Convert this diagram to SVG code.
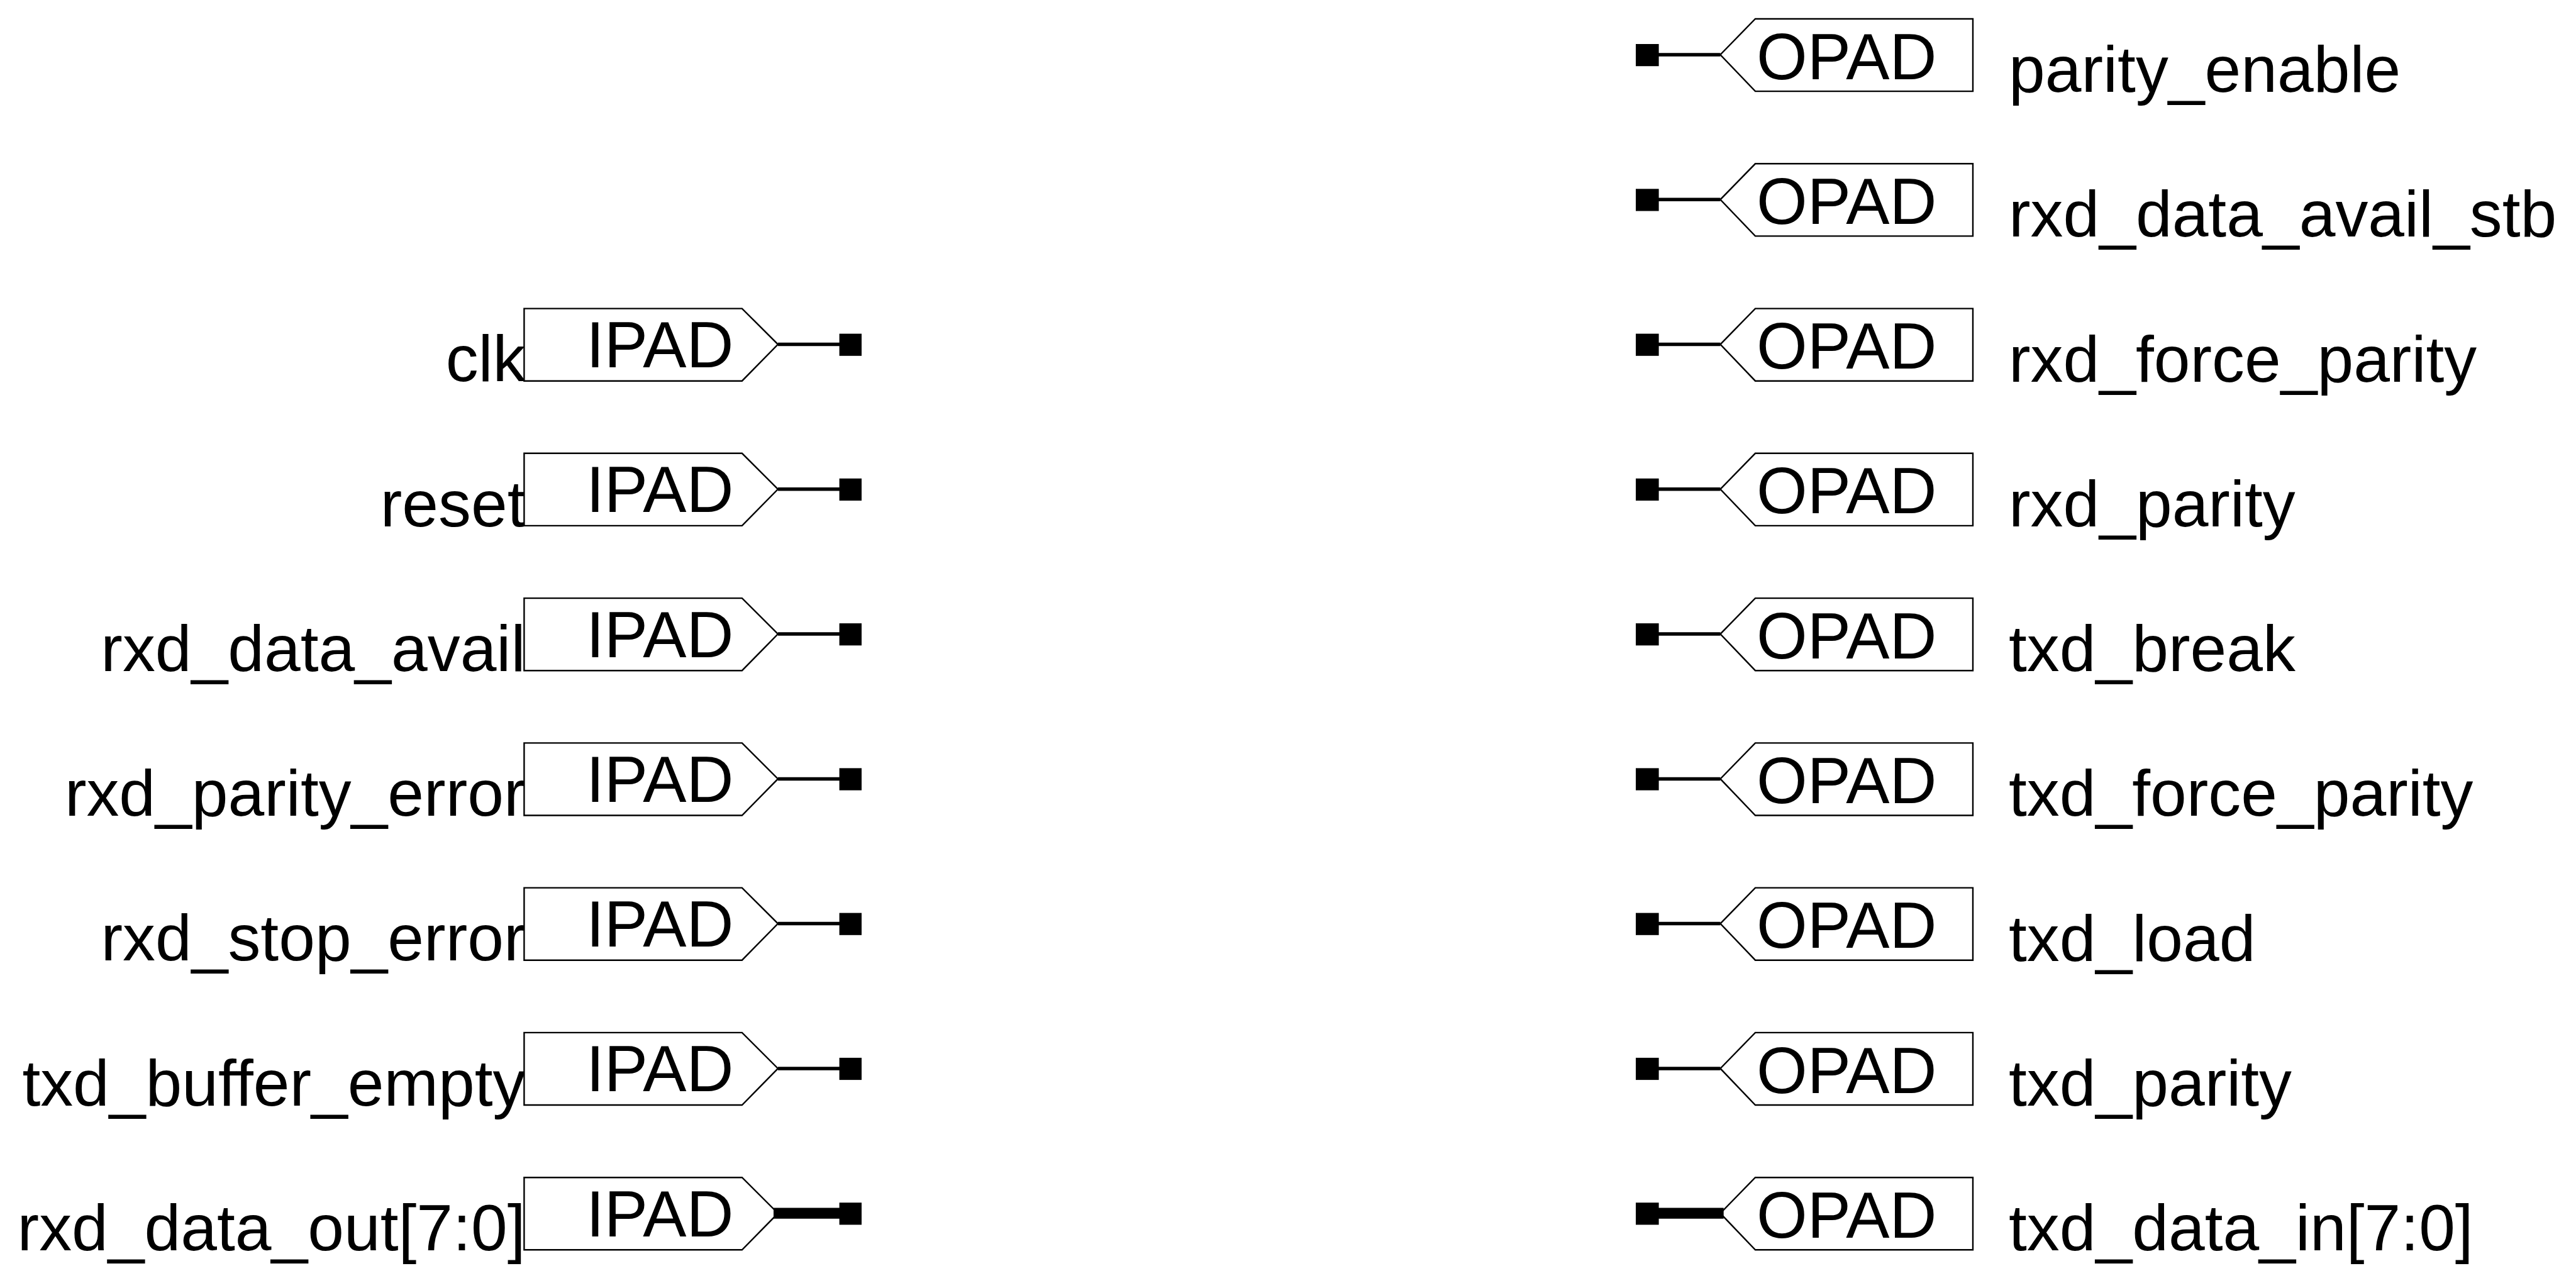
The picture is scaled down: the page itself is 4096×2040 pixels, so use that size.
<svg xmlns="http://www.w3.org/2000/svg" width="4096" height="2040" viewBox="0 0 4096 2040">
<style>
text{font-family:"Liberation Sans",Arial,sans-serif;font-size:103.8px;fill:#000}
.l{text-anchor:end}
.b{fill:#fff;stroke:#000;stroke-width:2.4}
.w{stroke:#000;stroke-width:5.5;fill:none}
.bus{stroke:#000;stroke-width:17.3;fill:none}
.t{fill:#000}
</style>
<defs>
<polygon id="ipad" class="b" points="833.4,0 1179.9,0 1237,57 1179.9,115.1 833.4,115.1"/>
<polygon id="opad" class="b" points="3137,0 2791,0 2735.4,57 2791,115.1 3137,115.1"/>
<rect id="ti" class="t" x="1334.6" y="40" width="35.4" height="35.2"/>
<rect id="to" class="t" x="2601" y="40" width="36.6" height="35.2"/>
</defs>
<g id="in-clk" transform="translate(0,490.6)"><text class="l" x="835.5" y="115.8">clk</text><use href="#ipad"/><text x="932" y="93.4">IPAD</text></g>
<g id="in-reset" transform="translate(0,720.8)"><text class="l" x="835.5" y="115.8">reset</text><use href="#ipad"/><text x="932" y="93.4">IPAD</text></g>
<g id="in-rxd_data_avail" transform="translate(0,951.1)"><text class="l" x="835.5" y="115.8">rxd_data_avail</text><use href="#ipad"/><text x="932" y="93.4">IPAD</text></g>
<g id="in-rxd_parity_error" transform="translate(0,1181.4)"><text class="l" x="835.5" y="115.8">rxd_parity_error</text><use href="#ipad"/><text x="932" y="93.4">IPAD</text></g>
<g id="in-rxd_stop_error" transform="translate(0,1411.6)"><text class="l" x="835.5" y="115.8">rxd_stop_error</text><use href="#ipad"/><text x="932" y="93.4">IPAD</text></g>
<g id="in-txd_buffer_empty" transform="translate(0,1641.9)"><text class="l" x="835.5" y="115.8">txd_buffer_empty</text><use href="#ipad"/><text x="932" y="93.4">IPAD</text></g>
<g id="in-rxd_data_out" transform="translate(0,1872.2)"><text class="l" x="835.5" y="115.8">rxd_data_out[7:0]</text><use href="#ipad"/><text x="932" y="93.4">IPAD</text></g>
<g id="out-parity_enable" transform="translate(0,30)"><use href="#opad"/><text x="2793" y="95.7">OPAD</text><text x="3194" y="116">parity_enable</text></g>
<g id="out-rxd_data_avail_stb" transform="translate(0,260.3)"><use href="#opad"/><text x="2793" y="95.7">OPAD</text><text x="3194" y="116">rxd_data_avail_stb</text></g>
<g id="out-rxd_force_parity" transform="translate(0,490.6)"><use href="#opad"/><text x="2793" y="95.7">OPAD</text><text x="3194" y="116">rxd_force_parity</text></g>
<g id="out-rxd_parity" transform="translate(0,720.8)"><use href="#opad"/><text x="2793" y="95.7">OPAD</text><text x="3194" y="116">rxd_parity</text></g>
<g id="out-txd_break" transform="translate(0,951.1)"><use href="#opad"/><text x="2793" y="95.7">OPAD</text><text x="3194" y="116">txd_break</text></g>
<g id="out-txd_force_parity" transform="translate(0,1181.4)"><use href="#opad"/><text x="2793" y="95.7">OPAD</text><text x="3194" y="116">txd_force_parity</text></g>
<g id="out-txd_load" transform="translate(0,1411.6)"><use href="#opad"/><text x="2793" y="95.7">OPAD</text><text x="3194" y="116">txd_load</text></g>
<g id="out-txd_parity" transform="translate(0,1641.9)"><use href="#opad"/><text x="2793" y="95.7">OPAD</text><text x="3194" y="116">txd_parity</text></g>
<g id="out-txd_data_in" transform="translate(0,1872.2)"><use href="#opad"/><text x="2793" y="95.7">OPAD</text><text x="3194" y="116">txd_data_in[7:0]</text></g>
<g id="connectors">
<path class="w" d="M1237 547.6H1340M1237 777.8H1340M1237 1008.1H1340M1237 1238.4H1340M1237 1468.6H1340M1237 1698.9H1340"/>
<path class="bus" d="M1230 1929.2H1340"/>
<use href="#ti" y="490.6"/><use href="#ti" y="720.8"/><use href="#ti" y="951.1"/><use href="#ti" y="1181.4"/><use href="#ti" y="1411.6"/><use href="#ti" y="1641.9"/><use href="#ti" y="1872.2"/>
<path class="w" d="M2630 87H2735.4M2630 317.3H2735.4M2630 547.6H2735.4M2630 777.8H2735.4M2630 1008.1H2735.4M2630 1238.4H2735.4M2630 1468.6H2735.4M2630 1698.9H2735.4"/>
<path class="bus" d="M2630 1929.2H2740.7"/>
<use href="#to" y="30"/><use href="#to" y="260.3"/><use href="#to" y="490.6"/><use href="#to" y="720.8"/><use href="#to" y="951.1"/><use href="#to" y="1181.4"/><use href="#to" y="1411.6"/><use href="#to" y="1641.9"/><use href="#to" y="1872.2"/>
</g>
</svg>
